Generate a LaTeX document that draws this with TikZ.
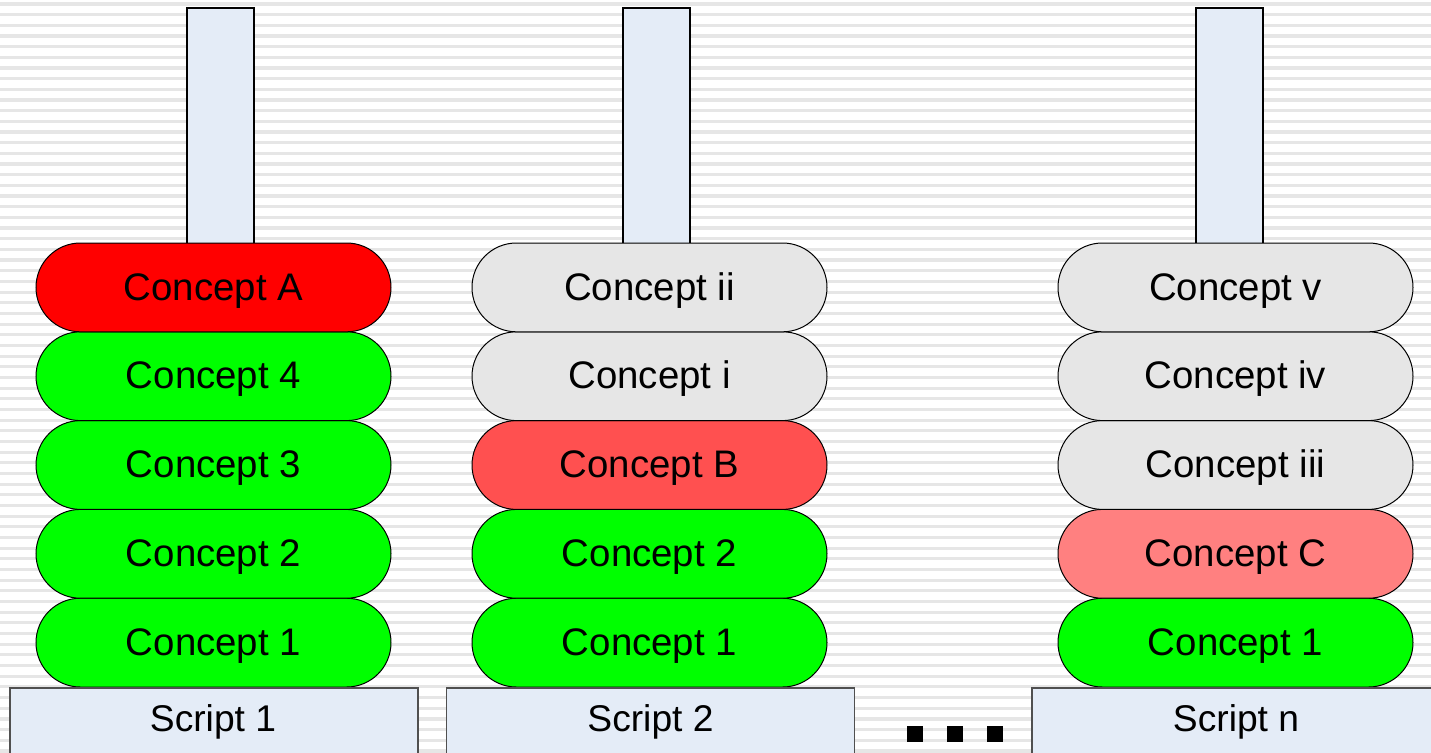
\documentclass[tikz,border=0pt]{standalone}
\usepackage{fontspec}
\setmainfont{Liberation Sans}
\usetikzlibrary{shapes.misc}
\definecolor{stripe}{HTML}{E6E6E6}
\definecolor{polefill}{HTML}{E4ECF7}
\definecolor{cred}{HTML}{FF0000}
\definecolor{cgreen}{HTML}{00FF00}
\definecolor{cgrey}{HTML}{E6E6E6}
\definecolor{cB}{HTML}{FF5050}
\definecolor{cC}{HTML}{FF8080}
\definecolor{boxline}{HTML}{505050}
\tikzset{
  pole/.style={draw=black, line width=1pt, fill=polefill, minimum width=33.5pt, minimum height=118pt, inner sep=0pt, anchor=north},
  pill/.style={rounded rectangle, draw=black, line width=0.5pt, minimum width=177.5pt, minimum height=44.4pt, inner sep=0pt, text height=15pt, text depth=2.4pt, font=\fontsize{19.2}{22}\selectfont},
  scriptbox/.style={draw=boxline, line width=0.75pt, fill=polefill, minimum width=204pt, minimum height=45pt, inner sep=0pt, anchor=north},
  scriptlabel/.style={font=\fontsize{18.6}{22}\selectfont, inner sep=0pt},
  dot/.style={fill=black, minimum size=8pt, inner sep=0pt}
}
\begin{document}
\begin{tikzpicture}[x=0.5pt,y=-0.5pt]
\useasboundingbox (0,0) rectangle (1431,752);
\clip (0,0) rectangle (1431,752);
\fill[white] (0,0) rectangle (1431,752);
\foreach \i in {0,...,70} {
  \draw[stripe, line width=1.6pt] (0,{4+\i*10.67}) -- (1431,{4+\i*10.67});
}
% poles
\node[pole] (p1) at (220.5,7) {};
\node[pole] (p2) at (656.5,7) {};
\node[pole] (p3) at (1229.5,7) {};
% column 1
\node[pill, fill=cgreen] (a1) at (213.5,642.6) {Concept 1};
\node[pill, fill=cgreen] (a2) at (213.5,553.8) {Concept 2};
\node[pill, fill=cgreen] (a3) at (213.5,465) {Concept 3};
\node[pill, fill=cgreen] (a4) at (213.5,376.2) {Concept 4};
\node[pill, fill=cred] (aA) at (213.5,287.4) {Concept A};
% column 2
\node[pill, fill=cgreen] (b1) at (649.5,642.6) {Concept 1};
\node[pill, fill=cgreen] (b2) at (649.5,553.8) {Concept 2};
\node[pill, fill=cB] (bB) at (649.5,465) {Concept B};
\node[pill, fill=cgrey] (bi) at (649.5,376.2) {Concept i};
\node[pill, fill=cgrey] (bii) at (649.5,287.4) {Concept ii};
% column 3
\node[pill, fill=cgreen] (c1) at (1235.5,642.6) {Concept 1};
\node[pill, fill=cC] (cC) at (1235.5,553.8) {Concept C};
\node[pill, fill=cgrey] (ciii) at (1235.5,465) {Concept iii};
\node[pill, fill=cgrey] (civ) at (1235.5,376.2) {Concept iv};
\node[pill, fill=cgrey] (cv) at (1235.5,287.4) {Concept v};
% script boxes
\node[scriptbox] (s1box) at (214,687) {};
\node[scriptbox] (s2box) at (650.5,687) {};
\node[scriptbox] (s3box) at (1236,687) {};
\node[scriptlabel] (s1) at (213,722) {Script 1};
\node[scriptlabel] (s2) at (650.5,722) {Script 2};
\node[scriptlabel] (s3) at (1236,722) {Script n};
% dots
\node[dot] (d1) at (915,734) {};
\node[dot] (d2) at (955,734) {};
\node[dot] (d3) at (995,734) {};
\end{tikzpicture}
\end{document}
